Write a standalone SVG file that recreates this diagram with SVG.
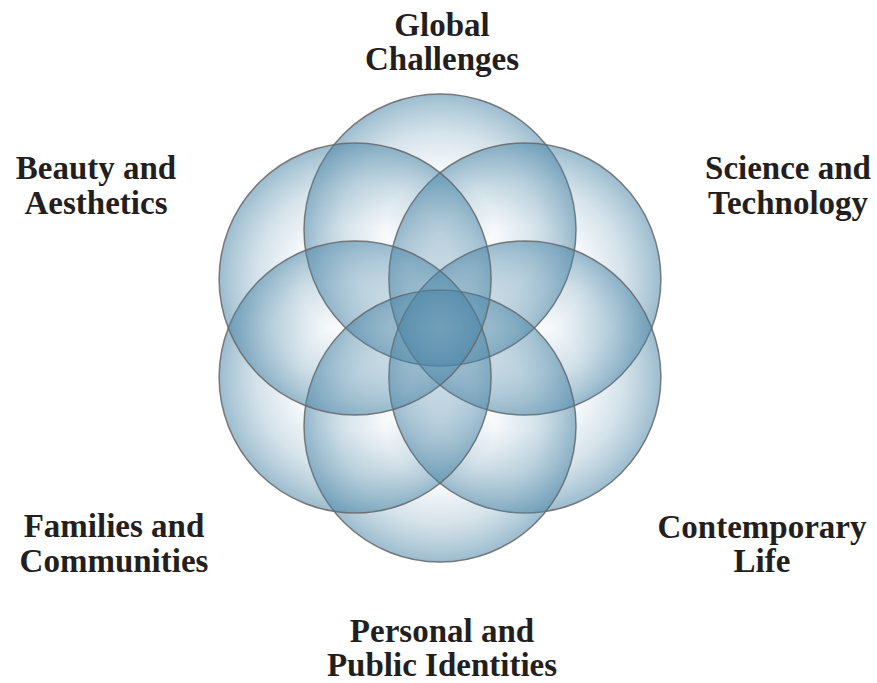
<svg xmlns="http://www.w3.org/2000/svg" width="877" height="683" viewBox="0 0 877 683">
  <defs>
    <radialGradient id="bubble" cx="0.5" cy="0.5" r="0.5">
      <stop offset="0" stop-color="#4a85a6" stop-opacity="0"/>
      <stop offset="0.4" stop-color="#4a85a6" stop-opacity="0.02"/>
      <stop offset="0.72" stop-color="#4a85a6" stop-opacity="0.23"/>
      <stop offset="0.9" stop-color="#4a85a6" stop-opacity="0.42"/>
      <stop offset="1" stop-color="#4a85a6" stop-opacity="0.55"/>
    </radialGradient>
  </defs>
  <style>
    .ring { fill: url(#bubble); stroke: #666666; stroke-opacity: 0.85; stroke-width: 1.5; }
    .lbl { font-family: "Liberation Serif", "Times New Roman", serif; font-weight: bold; font-size: 33px; fill: #231f20; text-anchor: middle; }
  </style>
  <rect width="877" height="683" fill="#ffffff"/>
  <g id="circles">
    <circle id="c-global" class="ring" cx="440" cy="230" r="136"/>
    <circle id="c-science" class="ring" cx="524.9" cy="279" r="136"/>
    <circle id="c-contemporary" class="ring" cx="524.9" cy="377" r="136"/>
    <circle id="c-personal" class="ring" cx="440" cy="426" r="136"/>
    <circle id="c-families" class="ring" cx="355.1" cy="377" r="136"/>
    <circle id="c-beauty" class="ring" cx="355.1" cy="279" r="136"/>
  </g>
  <g id="connectors"/>
  <g id="label-global">
    <text class="lbl" x="442" y="36">Global</text>
    <text class="lbl" x="442" y="70">Challenges</text>
  </g>
  <g id="label-beauty">
    <text class="lbl" x="96" y="179">Beauty and</text>
    <text class="lbl" x="96" y="214">Aesthetics</text>
  </g>
  <g id="label-science">
    <text class="lbl" x="788" y="179">Science and</text>
    <text class="lbl" x="788" y="214">Technology</text>
  </g>
  <g id="label-families">
    <text class="lbl" x="114" y="537">Families and</text>
    <text class="lbl" x="114" y="572">Communities</text>
  </g>
  <g id="label-contemporary">
    <text class="lbl" x="762" y="538">Contemporary</text>
    <text class="lbl" x="762" y="572">Life</text>
  </g>
  <g id="label-personal">
    <text class="lbl" x="442" y="642">Personal and</text>
    <text class="lbl" x="442" y="676">Public Identities</text>
  </g>
</svg>
